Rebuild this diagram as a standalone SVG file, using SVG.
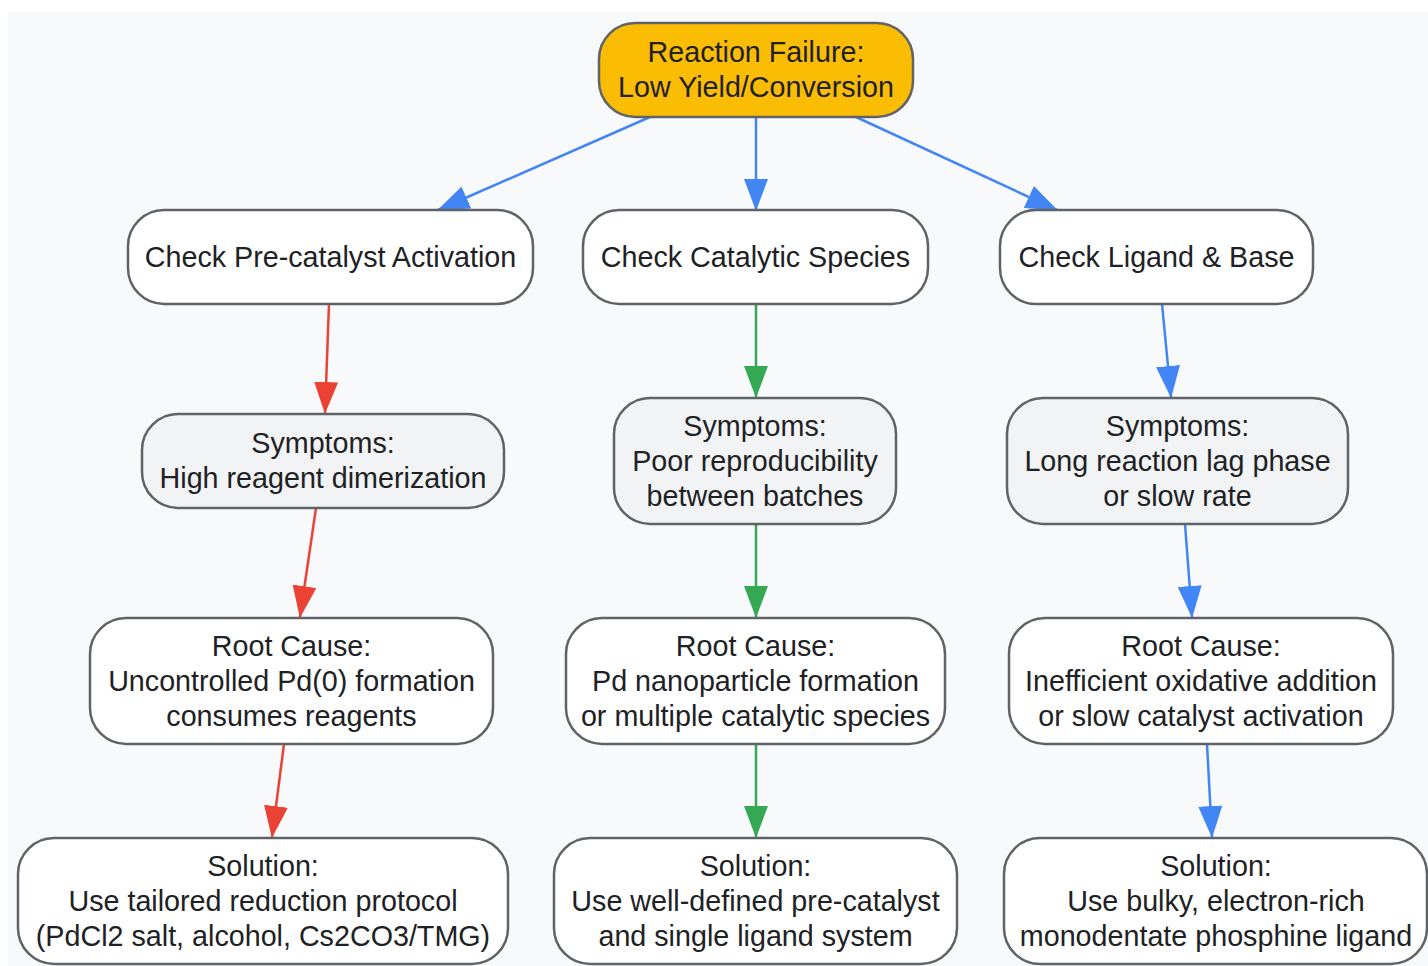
<svg xmlns="http://www.w3.org/2000/svg" width="1428" height="966" viewBox="0 0 1428 966">
<style>
.n rect{stroke:#5f6368;stroke-width:2.5}
.w rect{fill:#ffffff}
.g rect{fill:#f1f3f4}
.y rect{fill:#fbbc04}
text{font-family:"Liberation Sans",Arial,sans-serif;font-size:28.7px;fill:#202124;text-anchor:middle}
.e line{stroke-width:2.5;fill:none}
.b{stroke:#4285f4}
.r{stroke:#ea4335}
.gr{stroke:#34a853}
</style>
<defs>
<marker id="ab" markerUnits="userSpaceOnUse" markerWidth="32" markerHeight="24" viewBox="0 0 32 24" refX="31" refY="12" orient="auto"><path d="M0,0 L32,12 L0,24 Z" fill="#4285f4"/></marker>
<marker id="ar" markerUnits="userSpaceOnUse" markerWidth="32" markerHeight="24" viewBox="0 0 32 24" refX="31" refY="12" orient="auto"><path d="M0,0 L32,12 L0,24 Z" fill="#ea4335"/></marker>
<marker id="ag" markerUnits="userSpaceOnUse" markerWidth="32" markerHeight="24" viewBox="0 0 32 24" refX="31" refY="12" orient="auto"><path d="M0,0 L32,12 L0,24 Z" fill="#34a853"/></marker>
</defs>
<rect x="8" y="12" width="1430" height="964" fill="#f8f9fa"/>
<g class="e" id="connectors">
<line class="b" x1="650" y1="117" x2="438" y2="210" marker-end="url(#ab)"/>
<line class="b" x1="756" y1="117" x2="756" y2="210" marker-end="url(#ab)"/>
<line class="b" x1="856" y1="117" x2="1057" y2="210" marker-end="url(#ab)"/>
<line class="r" x1="329" y1="304" x2="325" y2="413" marker-end="url(#ar)"/>
<line class="r" x1="316" y1="508" x2="300" y2="617" marker-end="url(#ar)"/>
<line class="r" x1="284" y1="744" x2="272" y2="837" marker-end="url(#ar)"/>
<line class="gr" x1="756" y1="304" x2="756" y2="397" marker-end="url(#ag)"/>
<line class="gr" x1="756" y1="524" x2="756" y2="617" marker-end="url(#ag)"/>
<line class="gr" x1="756" y1="744" x2="756" y2="837" marker-end="url(#ag)"/>
<line class="b" x1="1162" y1="304" x2="1171" y2="397" marker-end="url(#ab)"/>
<line class="b" x1="1185" y1="524" x2="1192" y2="617" marker-end="url(#ab)"/>
<line class="b" x1="1207" y1="744" x2="1212" y2="837" marker-end="url(#ab)"/>
</g>
<g id="top" class="n y"><rect x="599" y="23" width="314" height="94" rx="36"/><text x="756" y="62">Reaction Failure:</text><text x="756" y="97">Low Yield/Conversion</text></g>
<g id="check1" class="n w"><rect x="128" y="210" width="405" height="94" rx="36"/><text x="330.5" y="267">Check Pre-catalyst Activation</text></g>
<g id="check2" class="n w"><rect x="583" y="210" width="345" height="94" rx="36"/><text x="755.5" y="267">Check Catalytic Species</text></g>
<g id="check3" class="n w"><rect x="1000" y="210" width="313" height="94" rx="36"/><text x="1156.5" y="267">Check Ligand &amp; Base</text></g>
<g id="sym1" class="n g"><rect x="142" y="414" width="362" height="94" rx="36"/><text x="323" y="453">Symptoms:</text><text x="323" y="488">High reagent dimerization</text></g>
<g id="sym2" class="n g"><rect x="614" y="398" width="282" height="126" rx="36"/><text x="755" y="436">Symptoms:</text><text x="755" y="471">Poor reproducibility</text><text x="755" y="506">between batches</text></g>
<g id="sym3" class="n g"><rect x="1007" y="398" width="341" height="126" rx="36"/><text x="1177.5" y="436">Symptoms:</text><text x="1177.5" y="471">Long reaction lag phase</text><text x="1177.5" y="506">or slow rate</text></g>
<g id="root1" class="n w"><rect x="90" y="618" width="403" height="126" rx="36"/><text x="291.5" y="656">Root Cause:</text><text x="291.5" y="691">Uncontrolled Pd(0) formation</text><text x="291.5" y="726">consumes reagents</text></g>
<g id="root2" class="n w"><rect x="566" y="618" width="379" height="126" rx="36"/><text x="755.5" y="656">Root Cause:</text><text x="755.5" y="691">Pd nanoparticle formation</text><text x="755.5" y="726">or multiple catalytic species</text></g>
<g id="root3" class="n w"><rect x="1009" y="618" width="384" height="126" rx="36"/><text x="1201" y="656">Root Cause:</text><text x="1201" y="691">Inefficient oxidative addition</text><text x="1201" y="726">or slow catalyst activation</text></g>
<g id="sol1" class="n w"><rect x="18" y="838" width="490" height="126" rx="36"/><text x="263" y="876">Solution:</text><text x="263" y="911">Use tailored reduction protocol</text><text x="263" y="946">(PdCl2 salt, alcohol, Cs2CO3/TMG)</text></g>
<g id="sol2" class="n w"><rect x="554" y="838" width="403" height="126" rx="36"/><text x="755.5" y="876">Solution:</text><text x="755.5" y="911">Use well-defined pre-catalyst</text><text x="755.5" y="946">and single ligand system</text></g>
<g id="sol3" class="n w"><rect x="1004" y="838" width="423" height="126" rx="36"/><text x="1216" y="876">Solution:</text><text x="1216" y="911">Use bulky, electron-rich</text><text x="1216" y="946">monodentate phosphine ligand</text></g>
</svg>
